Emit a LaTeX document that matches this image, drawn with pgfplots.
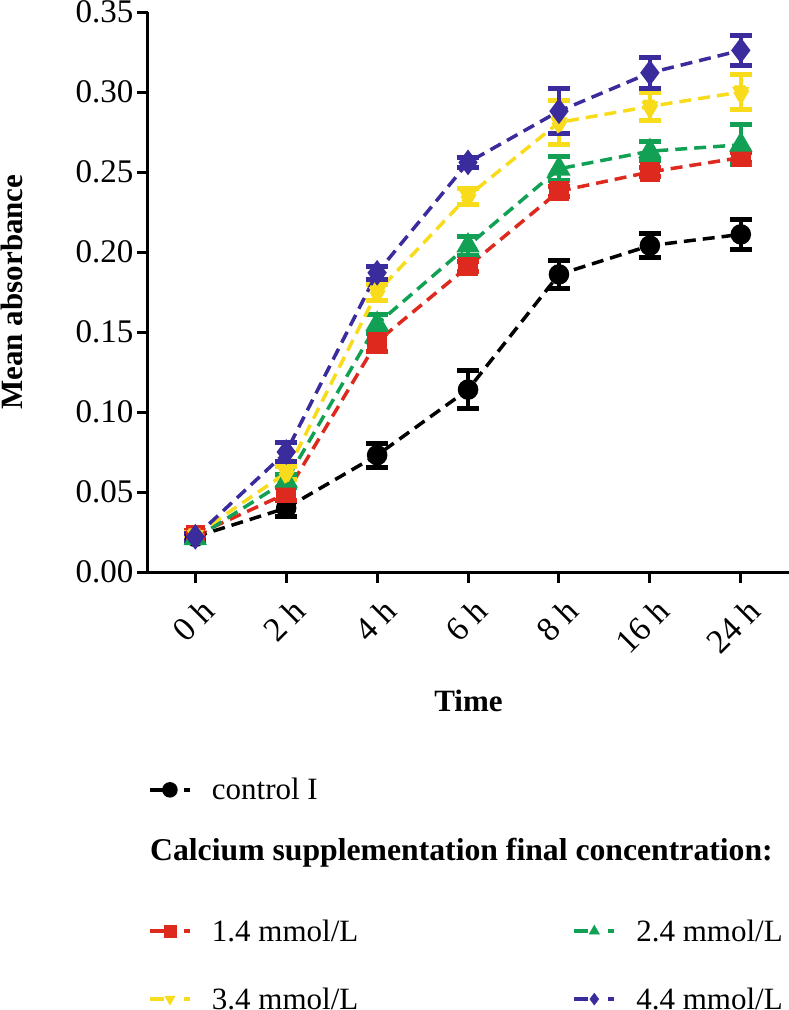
\documentclass[border=0pt]{standalone}
\usepackage{pgfplots}
\pgfplotsset{compat=1.18}
\usepackage{fontspec}
\setmainfont{Liberation Serif}
\definecolor{cred}{HTML}{DE2A1E}
\definecolor{cgreen}{HTML}{12A055}
\definecolor{cyellow}{HTML}{F8DC1C}
\definecolor{cblue}{HTML}{3A2C9C}
\begin{document}
\begin{tikzpicture}
\pgfplotsset{
  ser/.style={line width=3.5pt, dash pattern=on 12pt off 7pt, #1, mark options={solid, fill=#1, draw=#1},
    error bars/y dir=both, error bars/y explicit,
    error bars/error bar style={line width=4pt, solid, #1},
    error bars/error mark options={rotate=90, mark size=11pt, line width=5pt, solid, #1}},
  legline/.style={legend image code/.code={%
      \path[draw=none, fill=none, use as bounding box] (0pt,-1pt) rectangle (60pt,1pt);
      \draw[##1, line width=3.5pt, solid] (0pt,0pt) -- (14pt,0pt);
      \draw[##1, line width=3.5pt, solid] (34pt,0pt) -- (40pt,0pt);
      \draw[##1, mark size=6pt, mark repeat=2, mark phase=2, draw=none]
      plot coordinates {(10pt,0pt) (20pt,0pt) (30pt,0pt)};}},
}
\begin{axis}[name=main, at={(0,0)}, anchor=south west,
  scale only axis, width=641pt, height=560pt,
  xmin=-0.52, xmax=6.53, ymin=0, ymax=0.35,
  axis x line*=bottom, axis y line*=left,
  axis line style={line width=3pt},
  tick style={line width=3pt, black}, major tick length=11pt, tick align=outside,
  xtick={0,1,2,3,4,5,6},
  xticklabels={0 h,2 h,4 h,6 h,8 h,16 h,24 h},
  ytick={0,0.05,0.10,0.15,0.20,0.25,0.30,0.35},
  /pgf/number format/assume math mode=true,
  yticklabel style={/pgf/number format/fixed, /pgf/number format/fixed zerofill, /pgf/number format/precision=2,
    font=\fontsize{33}{36}\selectfont},
  x tick label style={xshift=5pt, yshift=-9pt, rotate=45, anchor=north east, font=\fontsize{34}{36}\selectfont},
  xlabel={\textbf{Time}}, ylabel={\textbf{Mean absorbance}},
  xlabel style={font=\fontsize{31}{34}\selectfont, yshift=-26pt},
  ylabel style={font=\fontsize{31}{34}\selectfont, at={(axis description cs:-0.212,0.5)}, anchor=center, rotate=0},
  legline,
  legend style={draw=none, fill=none, font=\fontsize{31}{34}\selectfont, inner sep=0pt, outer sep=0pt,
    at={(0.003,-0.389)}, anchor=west},
  legend cell align=left,
]
\addplot[mark=*, mark size=8.5pt, ser=black] coordinates {
  (0,0.022) +- (0,0.002) (1,0.040) +- (0,0.005) (2,0.073) +- (0,0.0075)
  (3,0.114) +- (0,0.012) (4,0.186) +- (0,0.009) (5,0.204) +- (0,0.0075) (6,0.211) +- (0,0.0095)};
\addlegendentry{control I}
\addplot[mark=square*, mark size=8pt, ser=cred] coordinates {
  (0,0.023) +- (0,0.003) (1,0.049) +- (0,0.004) (2,0.144) +- (0,0.006)
  (3,0.191) +- (0,0.003) (4,0.238) +- (0,0.003) (5,0.250) +- (0,0.003) (6,0.259) +- (0,0.003)};
\addplot[mark=triangle*, mark size=10pt, ser=cgreen] coordinates {
  (0,0.021) +- (0,0.002) (1,0.057) +- (0,0.004) (2,0.155) +- (0,0.006)
  (3,0.204) +- (0,0.006) (4,0.252) +- (0,0.0075) (5,0.263) +- (0,0.006) (6,0.267) +- (0,0.0125)};
\addplot[mark=triangle*, mark size=10pt, ser=cyellow, mark options={rotate=180}] coordinates {
  (0,0.023) +- (0,0.002) (1,0.062) +- (0,0.004) (2,0.175) +- (0,0.005)
  (3,0.235) +- (0,0.005) (4,0.281) +- (0,0.0135) (5,0.291) +- (0,0.0085) (6,0.300) +- (0,0.011)};
\addplot[mark=diamond*, mark size=10pt, ser=cblue] coordinates {
  (0,0.022) +- (0,0.002) (1,0.075) +- (0,0.006) (2,0.187) +- (0,0.004)
  (3,0.256) +- (0,0.003) (4,0.288) +- (0,0.014) (5,0.312) +- (0,0.0095) (6,0.326) +- (0,0.0095)};
\end{axis}
\begin{axis}[at={(0,0)}, anchor=south west, scale only axis, width=641pt, height=560pt,
  xmin=-0.52, xmax=6.53, ymin=0, ymax=0.35, hide axis, legline,
  legend columns=2,
  legend style={draw=none, fill=none, font=\fontsize{31}{34}\selectfont, inner sep=0pt, outer sep=0pt,
    at={(0.003,-0.702)}, anchor=west,
    /tikz/every even column/.append style={column sep=214pt},
    row sep=41pt},
  legend cell align=left]
\addlegendimage{cred, mark=square*, mark options={solid, fill=cred}}
\addlegendentry{1.4 mmol/L}
\addlegendimage{cgreen, mark=triangle*, mark options={solid, fill=cgreen}}
\addlegendentry{2.4 mmol/L}
\addlegendimage{cyellow, mark=triangle*, mark options={solid, fill=cyellow, rotate=180}}
\addlegendentry{3.4 mmol/L}
\addlegendimage{cblue, mark=diamond*, mark options={solid, fill=cblue}}
\addlegendentry{4.4 mmol/L}
\end{axis}
\node[anchor=west, inner sep=0pt, font=\fontsize{31.7}{34}\selectfont\bfseries] at (2pt,-281pt) {Calcium supplementation final concentration:};
\pgfresetboundingbox
\path[use as bounding box] (-148pt,-438pt) rectangle (641pt,572pt);
\end{tikzpicture}
\end{document}
